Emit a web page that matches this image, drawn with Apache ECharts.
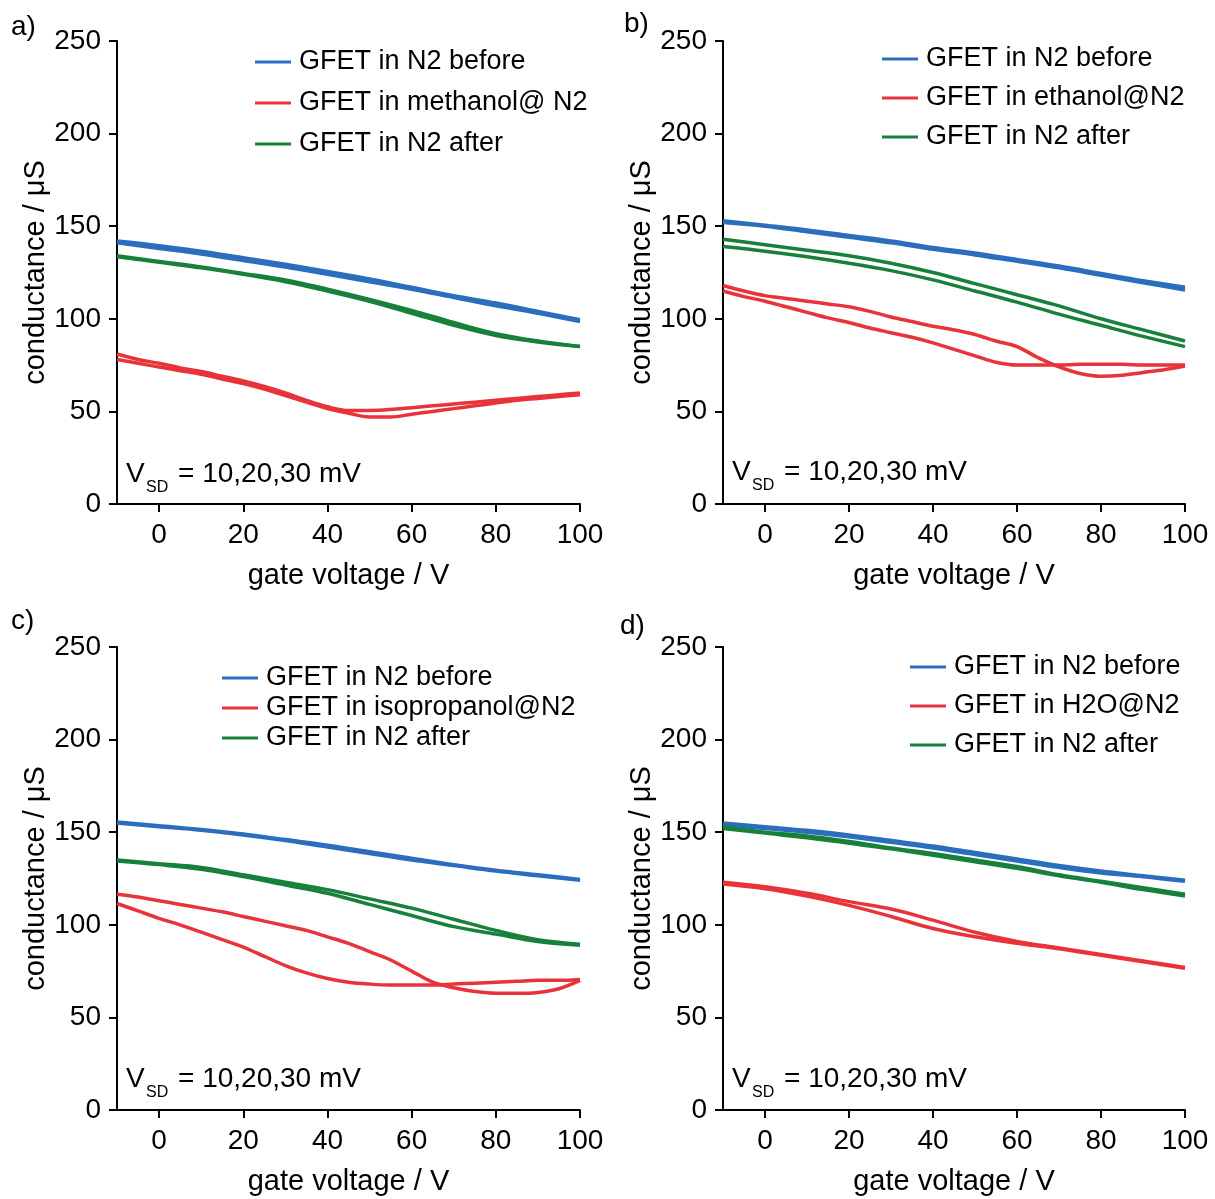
<!DOCTYPE html>
<html>
<head>
<meta charset="utf-8">
<script src="https://cdn.jsdelivr.net/npm/echarts@6/dist/echarts.min.js"></script>
<style>
html,body{margin:0;padding:0;background:#fff;}
#chart{width:1215px;height:1199px;}
</style>
</head>
<body>
<div id="chart"></div>
<script>
// ---------- data ----------
const gateV10 = [-10, 0, 10, 20, 30, 40, 50, 60, 70, 80, 90, 100];
const gateV5 = [-10, -5, 0, 5, 10, 15, 20, 25, 30, 35, 40, 45, 50, 55, 60, 65, 70, 75, 80, 85, 90, 95, 100];
const xTicks = [0, 20, 40, 60, 80, 100];
const yTicks = [0, 50, 100, 150, 200, 250];

const panelLetters = ['a)', 'b)', 'c)', 'd)'];
const nameBefore = 'GFET in N2 before';
const nameAfter = 'GFET in N2 after';
const redNames = ['GFET in methanol@ N2', 'GFET in ethanol@N2', 'GFET in isopropanol@N2', 'GFET in H2O@N2'];

// panel a (methanol)
const aBlueFwd  = [141, 138, 135, 131.5, 128, 124, 120, 116, 111.5, 107, 103, 98.5];
const aBlueBwd  = [142, 139.5, 136.5, 133, 129.5, 125.5, 121.5, 117, 112.5, 108.5, 104, 99.5];
const aGreenFwd = [133.5, 130.5, 127.5, 124, 120, 115, 109.5, 103, 96.5, 91, 87.5, 85];
const aGreenBwd = [134, 131, 128, 124.5, 121, 116, 110.5, 104.5, 98, 92, 88, 85];
const aRedFwd   = [78, 76, 74, 72, 70, 67.5, 65, 62, 58.5, 55, 51.5, 49, 47, 47, 48.5, 50, 51.5, 53, 54.5, 56, 57, 58, 59];
const aRedBwd   = [81, 78, 76, 73.5, 71.5, 69, 66.5, 63.5, 60, 56, 52.5, 50.5, 50.5, 51, 52, 53, 54, 55, 56, 57, 58, 59, 60];

// panel b (ethanol)
const bBlueFwd  = [152, 150, 147, 144, 141, 137.5, 134.5, 131, 127.5, 123.5, 119.5, 115.5];
const bBlueBwd  = [153, 150.5, 148, 145, 142, 138.5, 135.5, 132, 128.5, 124.5, 120.5, 117];
const bGreenFwd = [143, 140, 137, 134, 130, 125, 119, 113, 107, 100, 94, 88];
const bGreenBwd = [139, 136.5, 133.5, 130, 126, 121, 115, 109, 102.5, 96.5, 90.5, 85];
const bRedFwd   = [118, 115, 112.5, 111, 109.5, 108, 106.5, 104, 101, 98.5, 96, 94, 91.5, 88, 85, 79, 74, 70.5, 69, 69.5, 71, 72.5, 74.5];
const bRedBwd   = [115, 112, 109.5, 106.5, 103.5, 100.5, 98, 95, 92.5, 90, 87, 83.5, 80, 76.5, 75, 75, 75, 75.5, 75.5, 75.5, 75, 75, 75];

// panel c (isopropanol)
const cBlueFwd  = [155, 153, 151, 148.5, 145.5, 142, 138.5, 135, 132, 129, 126.5, 124];
const cBlueBwd  = [155.5, 153.5, 151.5, 149, 146, 143, 139.5, 136, 132.5, 129.5, 127, 124.5];
const cGreenFwd = [135, 133, 131, 127, 123, 119, 114, 109, 103, 97, 92, 89.5];
const cGreenBwd = [134.5, 132.5, 130, 126, 121.5, 117, 111, 105, 99, 95, 91, 89];
const cRedFwd   = [116.5, 115, 113, 111, 109, 107, 104.5, 102, 99.5, 97, 93.5, 90, 85.5, 81, 75, 69, 66, 64, 63, 63, 63.5, 65.5, 70];
const cRedBwd   = [111.5, 107.5, 103.5, 100, 96, 92, 88, 83, 78, 74, 71, 69, 68, 67.5, 67.5, 67.5, 68, 68.5, 69, 69.5, 70, 70, 70.5];

// panel d (H2O)
const dBlueFwd  = [155, 153, 151, 148.5, 145.5, 142.5, 139, 135.5, 132, 129, 126.5, 124];
const dBlueBwd  = [154, 152, 150, 147.5, 144.5, 141.5, 138, 134.5, 131, 128, 126, 123.5];
const dGreenFwd = [153, 150, 148, 145, 141.5, 138.5, 135, 131.5, 127, 123.5, 120, 116.5];
const dGreenBwd = [152, 149.5, 147, 144, 141, 137.5, 134, 130.5, 126.5, 123, 119, 115.5];
const dRedFwd   = [123, 120.5, 117, 112.5, 108.5, 102.5, 96, 91, 87.5, 84, 80.5, 77];
const dRedBwd   = [122, 119.5, 115.5, 110.5, 104.5, 98, 93.5, 90, 87, 83.5, 80, 76.5];

// ---------- styling / layout ----------
const FONT = '"Liberation Sans", Arial, Helvetica, sans-serif';
const BLUE = '#2a6ebd', RED = '#e8333a', GREEN = '#17803a';

const grids = [
  {left: 117, top: 41, width: 463, height: 463},
  {left: 723, top: 41, width: 462, height: 463},
  {left: 117, top: 647, width: 463, height: 463},
  {left: 723, top: 647, width: 462, height: 463}
];

const panelData = [
  {blue: [aBlueFwd, aBlueBwd], green: [aGreenFwd, aGreenBwd], red: [aRedFwd, aRedBwd], redX: gateV5},
  {blue: [bBlueFwd, bBlueBwd], green: [bGreenFwd, bGreenBwd], red: [bRedFwd, bRedBwd], redX: gateV5},
  {blue: [cBlueFwd, cBlueBwd], green: [cGreenFwd, cGreenBwd], red: [cRedFwd, cRedBwd], redX: gateV5},
  {blue: [dBlueFwd, dBlueBwd], green: [dGreenFwd, dGreenBwd], red: [dRedFwd, dRedBwd], redX: gateV10}
];

// legend placement: [left, top, itemGap]
const legendPos = [
  [255, 47, 11],
  [882, 44, 9],
  [222, 663, 0],
  [910, 652, 9]
];
// VSD annotation base positions [x, y]
const vsdPos = [[126, 474], [732, 472], [126, 1079], [732, 1079]];
const letterPos = [[11, 27], [624, 24], [11, 621], [620, 626]];

function pairs(xs, ys) { return xs.map((x, i) => [x, ys[i]]); }

const xAxes = [], yAxes = [], series = [], legends = [], graphics = [];

grids.forEach((g, i) => {
  xAxes.push({
    gridIndex: i, type: 'value', min: -10, max: 100, interval: 10,
    name: 'gate voltage / V', nameLocation: 'middle', nameGap: 57,
    nameTextStyle: {fontFamily: FONT, fontSize: 29, color: '#000'},
    axisLine: {onZero: false, lineStyle: {color: '#000', width: 2}},
    axisTick: {show: true, length: 8, lineStyle: {color: '#000', width: 2}, customValues: xTicks},
    axisLabel: {fontFamily: FONT, fontSize: 28, color: '#000', margin: 17, customValues: xTicks},
    splitLine: {show: false}
  });
  yAxes.push({
    gridIndex: i, type: 'value', min: 0, max: 250, interval: 50,
    name: 'conductance / μS', nameLocation: 'middle', nameGap: 66, nameRotate: 90,
    nameTextStyle: {fontFamily: FONT, fontSize: 29, color: '#000'},
    axisLine: {show: true, onZero: false, lineStyle: {color: '#000', width: 2}},
    axisTick: {show: true, length: 8, lineStyle: {color: '#000', width: 2}},
    axisLabel: {fontFamily: FONT, fontSize: 28, color: '#000', margin: 16},
    splitLine: {show: false}
  });

  const pd = panelData[i];
  const mk = (name, color, xs, ys) => ({
    type: 'line', name: name, xAxisIndex: i, yAxisIndex: i,
    data: pairs(xs, ys), symbol: 'none', smooth: 0.35,
    lineStyle: {color: color, width: 3.5}, itemStyle: {color: color},
    silent: true, animation: false
  });
  pd.blue.forEach(ys => series.push(mk(nameBefore, BLUE, gateV10, ys)));
  pd.red.forEach(ys => series.push(mk(redNames[i], RED, pd.redX, ys)));
  pd.green.forEach(ys => series.push(mk(nameAfter, GREEN, gateV10, ys)));

  const lp = legendPos[i];
  legends.push({
    data: [nameBefore, redNames[i], nameAfter],
    orient: 'vertical', left: lp[0], top: lp[1], itemGap: lp[2], padding: 0,
    icon: 'rect', itemWidth: 36, itemHeight: 3,
    textStyle: {fontFamily: FONT, fontSize: 27, color: '#000', lineHeight: 30, padding: [0, 0, 0, 3]},
    selectedMode: false
  });

  const vp = vsdPos[i];
  graphics.push(
    {type: 'text', x: vp[0], y: vp[1], style: {text: 'V', font: '28px ' + FONT, fill: '#000', verticalAlign: 'middle'}},
    {type: 'text', x: vp[0] + 20, y: vp[1] + 14, style: {text: 'SD', font: '16px ' + FONT, fill: '#000', verticalAlign: 'middle'}},
    {type: 'text', x: vp[0] + 52, y: vp[1], style: {text: '= 10,20,30 mV', font: '28px ' + FONT, fill: '#000', verticalAlign: 'middle'}}
  );
  const lt = letterPos[i];
  graphics.push({type: 'text', x: lt[0], y: lt[1], style: {text: panelLetters[i], font: '28px ' + FONT, fill: '#000', verticalAlign: 'middle'}});
});

const chart = echarts.init(document.getElementById('chart'), null, {renderer: 'canvas'});
chart.setOption({
  backgroundColor: '#fff',
  animation: false,
  grid: grids,
  xAxis: xAxes,
  yAxis: yAxes,
  legend: legends,
  series: series,
  graphic: graphics
});
</script>
</body>
</html>
